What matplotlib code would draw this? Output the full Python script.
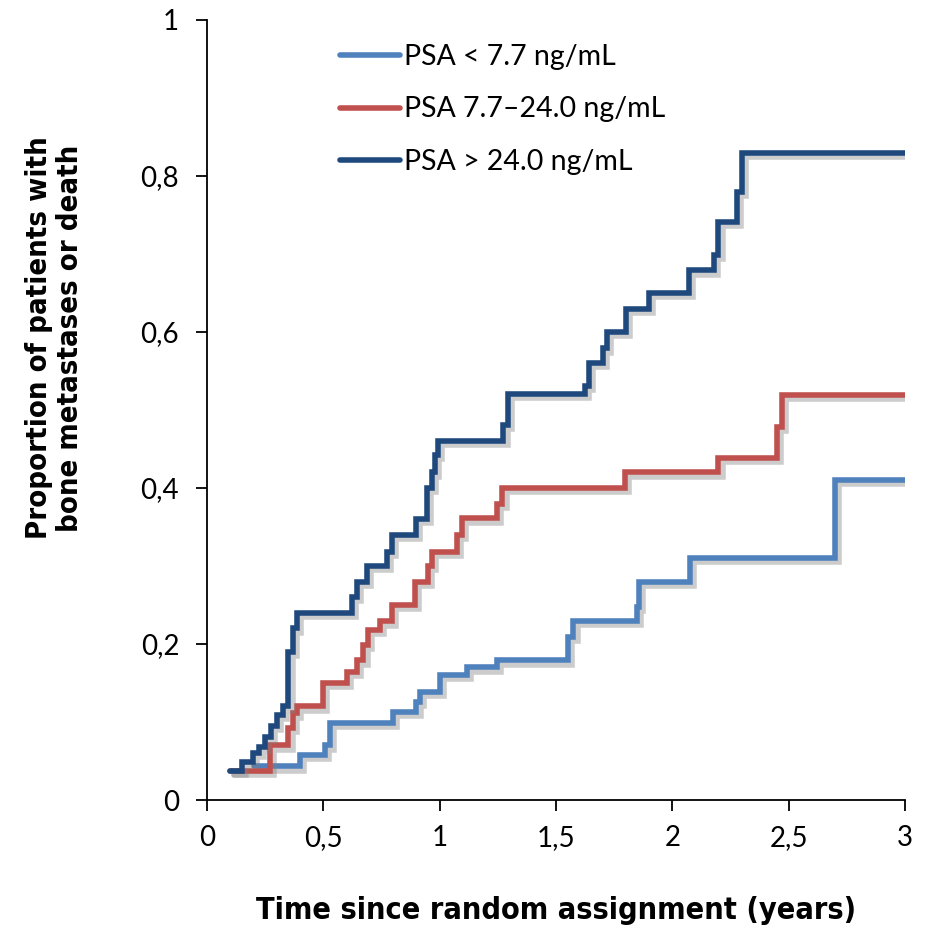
import matplotlib
matplotlib.use("Agg")
import matplotlib.pyplot as plt
import matplotlib.patheffects as pe

# ---- data ----
labels = ["PSA < 7.7 ng/mL", "PSA 7.7\u201324.0 ng/mL", "PSA > 24.0 ng/mL"]
colors = ["#4F81BD", "#C0504D", "#1F497D"]

t_low = [0.20, 0.40, 0.507, 0.528, 0.80, 0.90, 0.915, 1.0, 1.116, 1.245, 1.553, 1.575,
         1.846, 1.858, 2.076, 2.699, 3.0]
p_low = [0.043, 0.058, 0.07, 0.099, 0.113, 0.126, 0.139, 0.16, 0.17, 0.179, 0.209, 0.23,
         0.248, 0.28, 0.31, 0.41, 0.41]

t_mid = [0.10, 0.271, 0.35, 0.371, 0.385, 0.497, 0.60, 0.643, 0.672, 0.693, 0.743, 0.794,
         0.894, 0.951, 0.966, 1.073, 1.094, 1.245, 1.27, 1.796, 2.198, 2.448, 2.47, 3.0]
p_mid = [0.037, 0.07, 0.092, 0.111, 0.12, 0.15, 0.164, 0.179, 0.199, 0.218, 0.229, 0.25,
         0.28, 0.30, 0.318, 0.34, 0.361, 0.38, 0.40, 0.42, 0.439, 0.478, 0.519, 0.519]

t_high = [0.10, 0.149, 0.198, 0.225, 0.25, 0.275, 0.30, 0.328, 0.35, 0.371, 0.385, 0.622,
          0.643, 0.689, 0.772, 0.794, 0.898, 0.944, 0.966, 0.98, 0.994, 1.274, 1.295, 1.624,
          1.643, 1.703, 1.72, 1.80, 1.90, 2.073, 2.177, 2.198, 2.276, 2.298, 3.0]
p_high = [0.037, 0.049, 0.06, 0.068, 0.081, 0.095, 0.109, 0.12, 0.19, 0.22, 0.24, 0.26,
          0.28, 0.30, 0.318, 0.34, 0.36, 0.40, 0.42, 0.442, 0.46, 0.481, 0.521, 0.531,
          0.56, 0.579, 0.60, 0.63, 0.65, 0.679, 0.699, 0.741, 0.78, 0.83, 0.83]

x_ticks = [0, 0.5, 1, 1.5, 2, 2.5, 3]
x_ticklabels = ["0", "0,5", "1", "1,5", "2", "2,5", "3"]
y_ticks = [0, 0.2, 0.4, 0.6, 0.8, 1.0]
y_ticklabels = ["0", "0,2", "0,4", "0,6", "0,8", "1"]

series = [(t_low, p_low), (t_mid, p_mid), (t_high, p_high)]

# ---- figure ----
fig = plt.figure(figsize=(9.26, 9.30), dpi=100)
ax = fig.add_axes([207/926, 1-800/930, (905-207)/926, (800-20)/930])

shadow = [pe.SimpleLineShadow(offset=(3, -3), shadow_color="gray", alpha=0.4),
          pe.Normal()]
for i, ((t, p), c, lab) in enumerate(zip(series, colors, labels)):
    ax.step(t, p, where="post", color=c, lw=4.0, label=lab, zorder=3 + i,
            solid_capstyle="round", solid_joinstyle="miter", path_effects=shadow)

ax.set_xlim(0, 3)
ax.set_ylim(0, 1)
for s in ["top", "right"]:
    ax.spines[s].set_visible(False)
for s in ["left", "bottom"]:
    ax.spines[s].set_linewidth(1.3)

tick_font = ["Lato", "DejaVu Sans"]
ax.set_xticks(x_ticks)
ax.set_xticklabels(x_ticklabels, fontsize=20, family=tick_font)
ax.set_yticks(y_ticks)
ax.set_yticklabels(y_ticklabels, fontsize=20, family=tick_font)
ax.tick_params(axis="both", direction="out", length=8, width=1.3)
ax.tick_params(axis="x", pad=10)
ax.tick_params(axis="y", pad=12)

title_kw = dict(fontweight="bold", family="DejaVu Sans", fontstretch="condensed")
ax.set_xlabel("Time since random assignment (years)", fontsize=22, **title_kw)
ax.set_ylabel("Proportion of patients with\nbone metastases or death", fontsize=21,
              linespacing=1.15, **title_kw)
ax.xaxis.set_label_coords(0.5, (800-896)/780)
ax.yaxis.set_label_coords((84-207)/698, (800-338)/780)

leg = ax.legend(loc="upper left", bbox_to_anchor=(340/926, 1-44/930),
                bbox_transform=fig.transFigure, frameon=False,
                prop={"family": tick_font, "size": 20.5}, handlelength=2.1,
                handletextpad=0.15, labelspacing=0.93, borderpad=0, borderaxespad=0)
for h in leg.get_lines():
    h.set_path_effects([pe.Normal()])
    h.set_linewidth(4.0)

fig.savefig("out.png", dpi=100)
